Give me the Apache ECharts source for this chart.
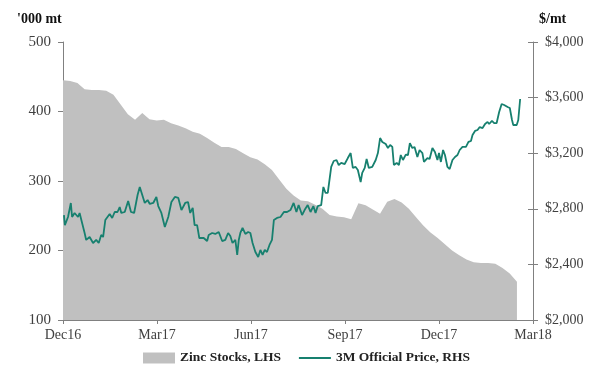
<!DOCTYPE html>
<html>
<head>
<meta charset="utf-8">
<script src="https://cdn.jsdelivr.net/npm/echarts@6/dist/echarts.min.js"></script>
<style>
  html, body { margin: 0; padding: 0; background: #fff; }
  #chart { width: 600px; height: 377px; }
</style>
</head>
<body>
<div id="chart"></div>
<script>
// x axis runs in months from Dec16 (0) to Mar18 (15)
var quarterLabels = ['Dec16', 'Mar17', 'Jun17', 'Sep17', 'Dec17', 'Mar18'];

// zinc stocks ('000 mt), one value a week from start of Dec16
var stocks = [445, 444, 441, 432, 431, 431, 430, 424, 410, 396,
    388, 398, 389, 387, 388, 383, 380, 376, 371, 368,
    362, 355, 349, 349, 346, 340, 334, 331, 324, 316,
    302, 289, 279, 272, 271, 266, 260, 251, 249, 248,
    245, 268, 265, 259, 253, 270, 274, 269, 260, 248,
    236, 226, 218, 209, 200, 193, 187, 183, 182, 182,
    181, 175, 167, 155];

// 3M official price ($/mt): month offset and price
var priceMonth = [0.03, 0.06, 0.16, 0.25, 0.29, 0.37, 0.48, 0.53, 0.61, 0.69,
    0.74, 0.85, 0.96, 1.06, 1.14, 1.22, 1.28, 1.35, 1.42, 1.49,
    1.57, 1.65, 1.74, 1.81, 1.86, 1.97, 2.08, 2.17, 2.27, 2.38,
    2.45, 2.53, 2.61, 2.70, 2.77, 2.88, 2.98, 3.04, 3.14, 3.25,
    3.36, 3.46, 3.57, 3.68, 3.78, 3.90, 3.99, 4.06, 4.14, 4.20,
    4.28, 4.35, 4.49, 4.60, 4.65, 4.76, 4.86, 4.97, 5.08, 5.18,
    5.27, 5.34, 5.41, 5.50, 5.56, 5.61, 5.66, 5.73, 5.82, 5.91,
    5.98, 6.05, 6.14, 6.23, 6.30, 6.37, 6.44, 6.51, 6.59, 6.67,
    6.73, 6.83, 6.94, 7.05, 7.15, 7.26, 7.36, 7.45, 7.52, 7.63,
    7.71, 7.81, 7.90, 7.99, 8.06, 8.13, 8.24, 8.31, 8.38, 8.45,
    8.56, 8.64, 8.73, 8.80, 8.88, 8.99, 9.09, 9.18, 9.25, 9.34,
    9.41, 9.50, 9.55, 9.63, 9.69, 9.76, 9.87, 9.98, 10.05, 10.12,
    10.19, 10.30, 10.37, 10.44, 10.51, 10.56, 10.65, 10.72, 10.78, 10.85,
    10.94, 11.01, 11.07, 11.15, 11.22, 11.31, 11.38, 11.47, 11.52, 11.63,
    11.70, 11.79, 11.87, 11.95, 12.00, 12.06, 12.13, 12.19, 12.27, 12.34,
    12.43, 12.51, 12.59, 12.66, 12.75, 12.86, 12.94, 13.02, 13.07, 13.15,
    13.23, 13.30, 13.39, 13.47, 13.55, 13.60, 13.69, 13.76, 13.84, 13.92,
    14.00, 14.08, 14.19, 14.26, 14.33, 14.37, 14.48, 14.53, 14.59];
var price = [2755, 2683, 2741, 2842, 2741, 2770, 2741, 2770, 2698, 2626,
    2576, 2597, 2554, 2576, 2554, 2612, 2597, 2719, 2741, 2763,
    2734, 2777, 2777, 2813, 2770, 2777, 2856, 2777, 2770, 2899,
    2957, 2899, 2842, 2863, 2835, 2842, 2885, 2820, 2770, 2669,
    2741, 2849, 2885, 2878, 2791, 2842, 2849, 2770, 2806, 2683,
    2683, 2590, 2590, 2568, 2612, 2626, 2619, 2633, 2568, 2576,
    2626, 2604, 2554, 2576, 2468, 2576, 2626, 2662, 2619, 2633,
    2626, 2554, 2489, 2453, 2504, 2468, 2504, 2489, 2540, 2576,
    2719, 2734, 2741, 2777, 2777, 2791, 2842, 2777, 2827, 2755,
    2791, 2827, 2777, 2820, 2770, 2820, 2827, 2957, 2914, 2914,
    3101, 3144, 3151, 3115, 3130, 3122, 3165, 3201, 3094, 3101,
    3079, 2993, 3058, 3094, 3158, 3094, 3101, 3151, 3201, 3309,
    3281, 3266, 3237, 3259, 3245, 3115, 3130, 3115, 3187, 3151,
    3190, 3187, 3273, 3237, 3245, 3173, 3223, 3201, 3137, 3165,
    3158, 3237, 3209, 3151, 3201, 3137, 3223, 3187, 3101, 3086,
    3151, 3173, 3187, 3223, 3245, 3245, 3281, 3288, 3331, 3360,
    3367, 3388, 3381, 3410, 3425, 3410, 3432, 3417, 3417, 3496,
    3554, 3547, 3532, 3525, 3439, 3403, 3403, 3439, 3590];

var stockData = stocks.map(function (v, i) { return [i * 7 / 30.44, v]; });
var priceData = price.map(function (v, i) { return [priceMonth[i], v]; });

var font = 'Liberation Serif';
var axisGrey = '#808080';
var labelColor = '#404040';
var teal = '#17806f';

var chart = echarts.init(document.getElementById('chart'));
var option = {
    animation: false,
    textStyle: { fontFamily: font },
    title: [
        { text: "'000 mt", left: 17, top: 12, textStyle: { fontFamily: font, fontSize: 14, fontWeight: 'bold', color: '#111' }, padding: 0 },
        { text: '$/mt', left: 539, top: 12, textStyle: { fontFamily: font, fontSize: 14, fontWeight: 'bold', color: '#111' }, padding: 0 }
    ],
    grid: { left: 63, right: 67, top: 42, bottom: 57 },
    legend: {
        left: 143,
        top: 351,
        padding: 0,
        itemWidth: 32,
        itemHeight: 11,
        itemGap: 18,
        textStyle: { fontFamily: font, fontSize: 13.5, fontWeight: 'bold', color: '#222' },
        data: [
            { name: 'Zinc Stocks, LHS', icon: 'rect' },
            { name: '3M Official Price, RHS', icon: 'path://M0,0 H32 V2.2 H0 Z' }
        ]
    },
    xAxis: [
        {
            type: 'value', min: 0, max: 15, interval: 3,
            axisLine: { onZero: false, lineStyle: { color: axisGrey } },
            axisTick: { inside: false, length: 4, lineStyle: { color: axisGrey } },
            minorTick: { show: false },
            splitLine: { show: false },
            axisLabel: {
                color: labelColor, fontSize: 14, margin: 8,
                formatter: function (v) { return quarterLabels[Math.round(v / 3)]; }
            }
        },
        {
            type: 'value', min: 0, max: 15, interval: 3, position: 'bottom',
            axisLine: { show: false, onZero: false },
            axisTick: { inside: true, length: 4, lineStyle: { color: axisGrey } },
            minorTick: { show: true, splitNumber: 3, length: 4, lineStyle: { color: axisGrey } },
            splitLine: { show: false },
            axisLabel: { show: false }
        }
    ],
    yAxis: [
        {
            type: 'value', min: 100, max: 500, interval: 100, position: 'left',
            axisLine: { show: true, onZero: false, lineStyle: { color: axisGrey } },
            axisTick: { show: true, length: 5, lineStyle: { color: axisGrey } },
            splitLine: { show: false },
            axisLabel: { color: labelColor, fontSize: 15, margin: 12 }
        },
        {
            type: 'value', min: 2000, max: 4000, interval: 400, position: 'right',
            axisLine: { show: true, onZero: false, lineStyle: { color: axisGrey } },
            axisTick: { show: true, length: 5, lineStyle: { color: axisGrey } },
            splitLine: { show: false },
            axisLabel: {
                color: labelColor, fontSize: 14, margin: 12,
                formatter: function (v) { return '$' + v.toLocaleString('en-US'); }
            }
        },
        {
            type: 'value', min: 2000, max: 4000, interval: 400, position: 'right',
            axisLine: { show: false, onZero: false },
            axisTick: { show: true, inside: true, length: 5, lineStyle: { color: axisGrey } },
            splitLine: { show: false },
            axisLabel: { show: false }
        }
    ],
    series: [
        {
            name: 'Zinc Stocks, LHS',
            type: 'line',
            xAxisIndex: 0,
            yAxisIndex: 0,
            data: stockData,
            symbol: 'none',
            lineStyle: { width: 0 },
            itemStyle: { color: '#c0c0c0' },
            areaStyle: { color: '#c0c0c0', opacity: 1, origin: 'start' },
            z: 1
        },
        {
            name: '3M Official Price, RHS',
            type: 'line',
            xAxisIndex: 0,
            yAxisIndex: 1,
            data: priceData,
            symbol: 'none',
            lineStyle: { width: 1.8, color: teal },
            itemStyle: { color: teal },
            z: 3
        }
    ]
};
chart.setOption(option);
</script>
</body>
</html>
